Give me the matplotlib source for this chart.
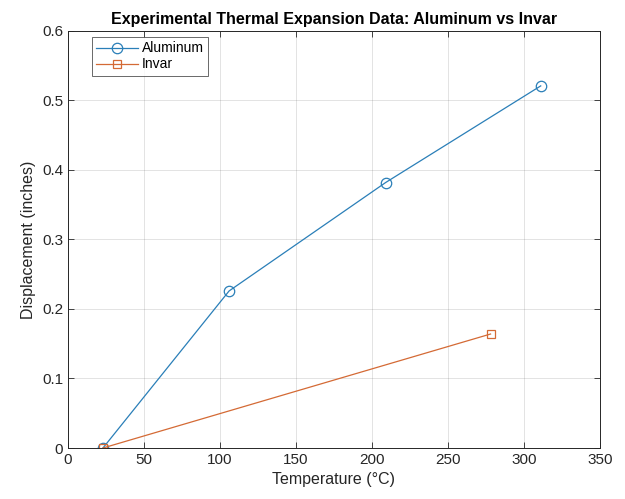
import numpy as np
import matplotlib
matplotlib.use('Agg')
import matplotlib.pyplot as plt

plt.rcParams['font.family'] = ['Liberation Sans', 'DejaVu Sans']

al_temp = [23, 106, 209, 311]
al_disp = [0.0, 0.226, 0.382, 0.521]
inv_temp = [23, 278]
inv_disp = [0.0, 0.164]

fig = plt.figure(figsize=(6.25, 4.99), dpi=100)
ax = fig.add_axes([0.1088, 0.1022, 0.8512, 0.8357])

ax.plot(al_temp, al_disp, '-o', color='#2a7fb8', lw=0.9, ms=7.5,
        mfc='none', mew=0.9, label='Aluminum')
ax.plot(inv_temp, inv_disp, '-s', color='#d46a35', lw=0.9, ms=6,
        mfc='none', mew=0.9, label='Invar')

ax.set_xlim(0, 350)
ax.set_ylim(0, 0.6)
ax.set_xticks(np.arange(0, 351, 50))
ax.set_yticks(np.arange(0, 0.61, 0.1))
ax.set_yticklabels(['0', '0.1', '0.2', '0.3', '0.4', '0.5', '0.6'])
ax.grid(True, color='#262626', alpha=0.15, lw=0.6)
ax.set_axisbelow(True)
ax.tick_params(direction='in', top=True, right=True, labelsize=11,
               colors='#262626', length=4, width=0.6)
for s in ax.spines.values():
    s.set_color('#262626')
    s.set_linewidth(0.7)

ax.set_xlabel('Temperature (°C)', fontsize=11.5, color='#262626')
ax.set_ylabel('Displacement (inches)', fontsize=11.5, color='#262626')
ax.set_title('Experimental Thermal Expansion Data: Aluminum vs Invar',
             fontsize=11.5, fontweight='bold', pad=5)

leg = ax.legend(loc='upper left', fontsize=10, fancybox=False,
                edgecolor='#262626', borderpad=0.3, handlelength=3.0,
                labelspacing=0.15, handletextpad=0.3, borderaxespad=0.0,
                bbox_to_anchor=(0.045, 0.985))
leg.get_frame().set_linewidth(0.6)

fig.savefig('out.png', dpi=100)
